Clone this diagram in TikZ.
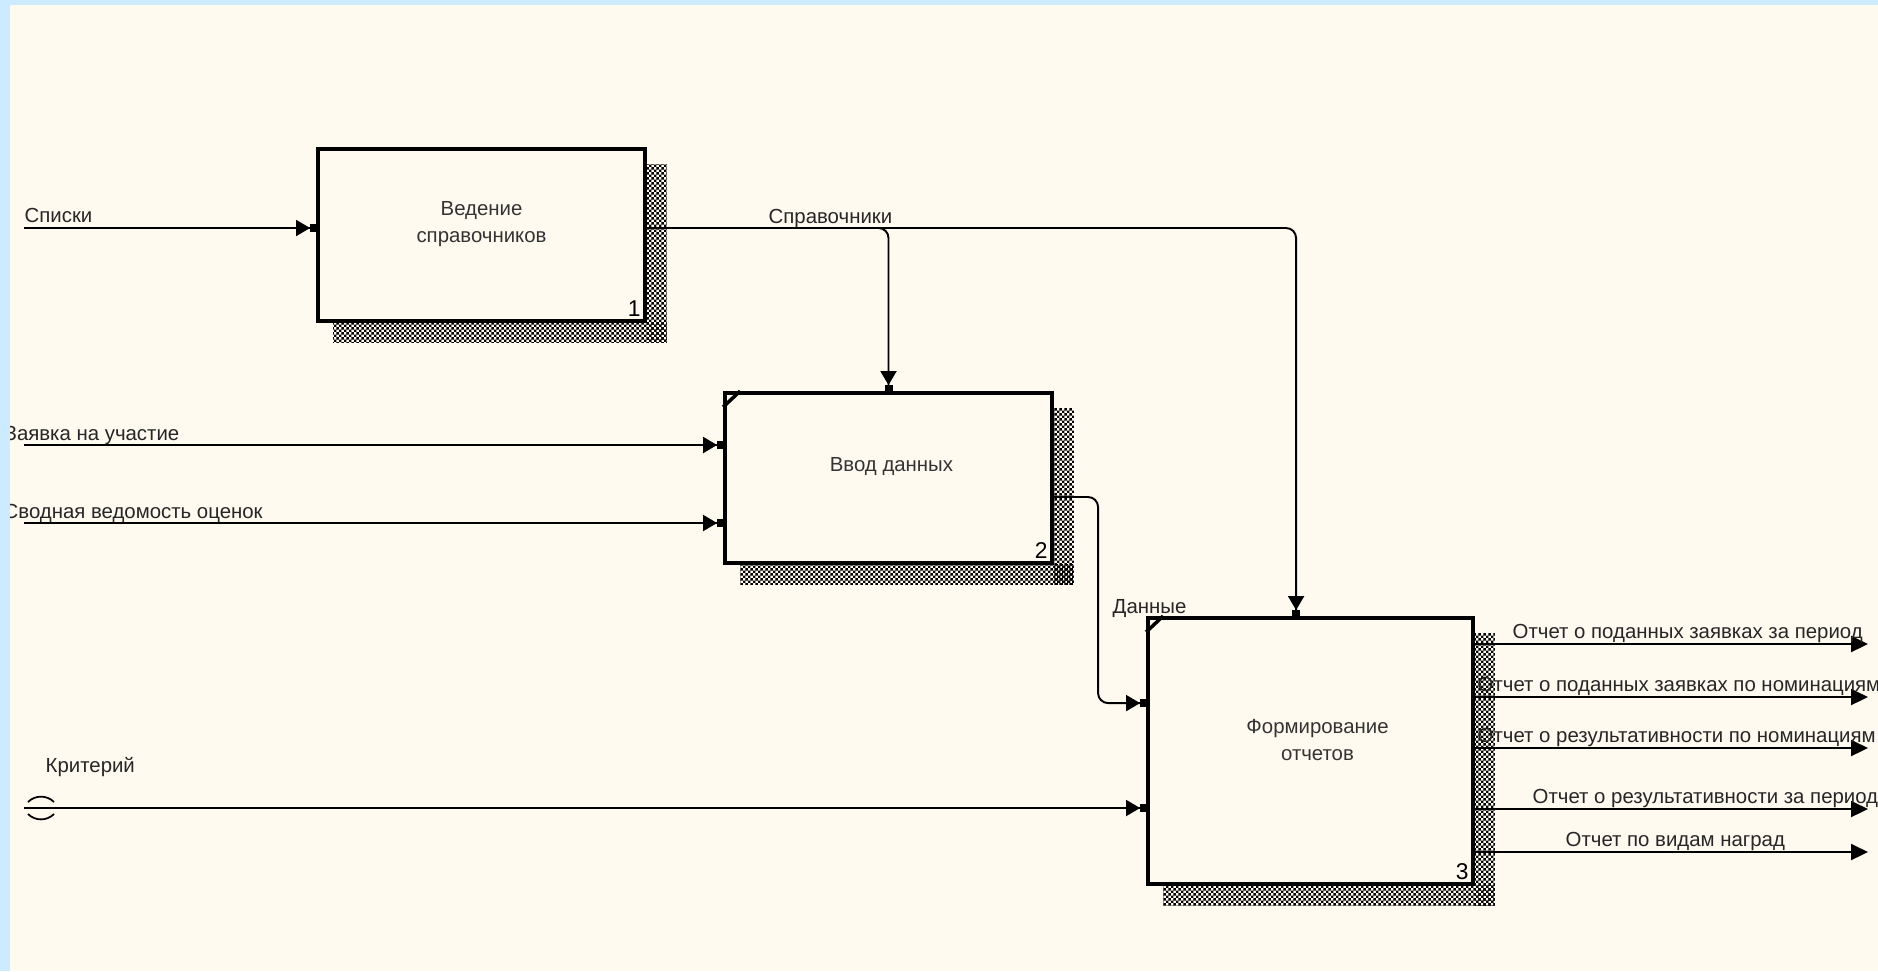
\documentclass[tikz,border=0pt]{standalone}
\usepackage{fontspec}
\setmainfont{Liberation Sans}
\usetikzlibrary{arrows.meta,backgrounds,calc,patterns}
\definecolor{frameblue}{HTML}{CCEBFF}
\definecolor{paper}{HTML}{FFFAF0}
\pgfdeclarepatternformonly{shadowdots}{\pgfqpoint{0pt}{0pt}}{\pgfqpoint{1.4pt}{1.4pt}}{\pgfqpoint{1.4pt}{1.4pt}}{%
  \pgfpathrectangle{\pgfqpoint{0pt}{0pt}}{\pgfqpoint{0.7pt}{0.7pt}}%
  \pgfpathrectangle{\pgfqpoint{0.7pt}{0.7pt}}{\pgfqpoint{0.7pt}{0.7pt}}%
  \pgfusepath{fill}}
\begin{document}
\begin{tikzpicture}[x=0.1mm,y=-0.1mm,
    font=\fontsize{5.8}{7.7}\selectfont,
    fnbox/.style={draw,line width=1.1pt,fill=paper,inner sep=0pt},
    boxtext/.style={align=center,inner sep=0pt,text=black!80},
    boxnum/.style={anchor=south east,inner sep=1.6pt,font=\fontsize{6.5}{7}\selectfont},
    flow/.style={line width=0.55pt,rounded corners=1mm},
    inarrow/.style={flow,-{Triangle[length=1.4mm,width=1.6mm]Square[length=0.6mm,width=0.8mm]}},
    outarrow/.style={flow,-{Triangle[length=1.7mm,width=1.6mm]}},
    lbl/.style={inner sep=0pt,anchor=base west,text=black!85},
    shade/.style={pattern=shadowdots,pattern color=black}]
    \useasboundingbox (0,0) rectangle (1878,971);

    %% function boxes
    \node[fnbox,minimum width=32.7mm,minimum height=17.2mm] (b1) at (481.5,235) {};
    \node[fnbox,minimum width=32.7mm,minimum height=17mm] (b2) at (888.5,478) {};
    \node[fnbox,minimum width=32.5mm,minimum height=26.6mm] (b3) at (1310.5,751) {};
    \node[boxtext] (t1) at ([yshift=1.1mm]b1.center) {Ведение\\справочников};
    \node[boxtext] (t2) at ([yshift=1.2mm,xshift=0.3mm]b2.center) {Ввод данных};
    \node[boxtext] (t3) at ([yshift=1.1mm,xshift=0.7mm]b3.center) {Формирование\\отчетов};
    \node[boxnum] (n1) at (b1.south east) {1};
    \node[boxnum] (n2) at (b2.south east) {2};
    \node[boxnum] (n3) at (b3.south east) {3};
    \draw[line width=1pt] ([yshift=-1.6mm]b2.north west) -- ([xshift=1.7mm]b2.north west);
    \draw[line width=1pt] ([yshift=-1.6mm]b3.north west) -- ([xshift=1.7mm]b3.north west);

    %% inputs
    \coordinate (spiski) at (24,228);
    \coordinate (zayavka) at (24,445);
    \coordinate (vedomost) at (24,523);
    \coordinate (kriteriy) at (24,808);
    \draw[inarrow] (spiski) -- (spiski -| b1.west);
    \draw[inarrow] (zayavka) -- (zayavka -| b2.west);
    \draw[inarrow] (vedomost) -- (vedomost -| b2.west);
    \draw[inarrow] (kriteriy) -- (kriteriy -| b3.west);
    \node[lbl] (lspiski) at (24,222) {Списки};
    \node[lbl] (lzayavka) at (4,440) {Заявка на участие};
    \node[lbl] (lvedomost) at (3,518) {Сводная ведомость оценок};
    \node[lbl] (lkriteriy) at (45,772) {Критерий};
    %% tunnel
    \draw[line width=0.5pt] (28,802) to[bend left=45] (54,802);
    \draw[line width=0.5pt] (28,814) to[bend right=45] (54,814);

    %% controls
    \coordinate (out1) at (b1.east |- spiski);
    \coordinate (b3top) at ($(b3.north west)+(150,0)$);
    \coordinate (split) at (860,228);
    \draw[inarrow] (out1) -| (b3top);
    \draw[inarrow] (split) -| (b2.north);
    \node[lbl] (lspravochniki) at (768,223) {Справочники};

    %% data
    \coordinate (out2) at ($(b2.east)+(0,19)$);
    \coordinate (in3data) at ($(b3.north west)+(0,87)$);
    \draw[inarrow] (out2) -| ([xshift=-4.8mm]in3data) -- (in3data);
    \node[lbl] (ldannye) at (1112,613) {Данные};

    %% outputs
    \foreach \ly/\lx/\txt [count=\i] in {644/1512/Отчет о поданных заявках за период,
        697/1477/Отчет о поданных заявках по номинациям,
        748/1477/Отчет о результативности по номинациям,
        809/1532/Отчет о результативности за период,
        852/1565/Отчет по видам наград} {
        \coordinate (rep\i) at (1868,\ly);
        \draw[outarrow] (b3.east |- rep\i) -- (rep\i);
        \node[lbl] (lrep\i) at (\lx,\ly-6) {\txt};
    }

    %% paper and shadows
    \begin{scope}[on background layer]
        \fill[frameblue] (0,0) rectangle (1878,971);
        \fill[paper] (10,5) rectangle (1878,971);
        \foreach \b in {b1,b2,b3} {
            \fill[shade] ($(\b.north east)+(0,17)$) rectangle ($(\b.south east)+(20,20)$);
            \fill[shade] ($(\b.south west)+(17,0)$) rectangle ($(\b.south east)+(20,20)$);
        }
    \end{scope}
    \fill[frameblue] (0,0) rectangle (10,971);
\end{tikzpicture}
\end{document}
